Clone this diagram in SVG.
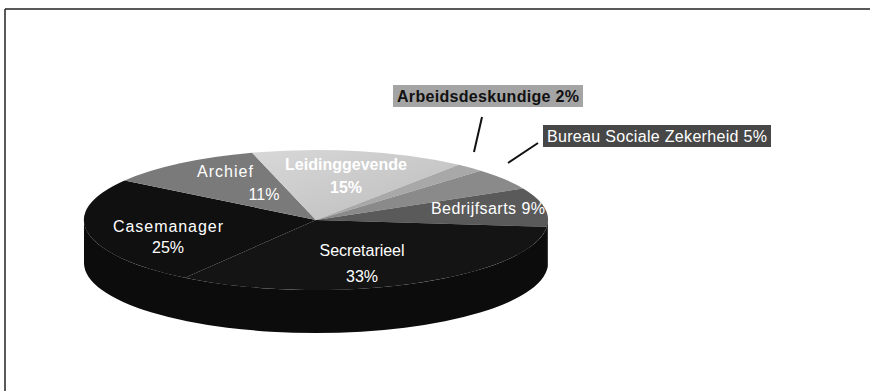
<svg xmlns="http://www.w3.org/2000/svg" width="870" height="391" viewBox="0 0 870 391">
<style>
.lbl{font-family:"Liberation Sans",Arial,sans-serif;font-size:16px;fill:#ffffff;text-anchor:middle}
.bold{font-weight:bold}
.lead{stroke:#111;stroke-width:2;fill:none}
</style>
<defs>
<linearGradient id="gLeid" x1="0" y1="0" x2="1" y2="1">
<stop offset="0" stop-color="#d8d8d8"/><stop offset="1" stop-color="#bcbcbc"/>
</linearGradient>
<linearGradient id="gRight" x1="0" y1="0" x2="1" y2="0">
<stop offset="0" stop-color="#a8a8a8"/><stop offset="1" stop-color="#7a7a7a"/>
</linearGradient>
</defs>
<rect width="870" height="391" fill="#ffffff"/>
<g id="frame" stroke="#222" stroke-width="1.5" fill="none">
<line x1="5" y1="9" x2="870" y2="9"/>
<line x1="5" y1="9" x2="5" y2="391"/>
</g>
<g id="pie-side">
<path d="M84,220 L84,263 A232,70 0 0 0 548,263 L548,220 A232,70 0 0 1 84,220 Z" fill="#0c0c0c"/>
<path d="M546.9,226.8 L546.9,269.8 A232,70 0 0 0 548,263 L548,220 A232,70 0 0 1 546.9,226.8 Z" fill="#3a3a3a"/>
</g>
<g id="slice-casemanager">
<path d="M316,220 L184.9,277.8 A232,70 0 0 1 124.6,180.4 Z" fill="#101010"/>
<text class="lbl" x="168" y="232" textLength="110">Casemanager</text>
<text class="lbl" x="168" y="253">25%</text>
</g>
<g id="slice-archief">
<path d="M316,220 L124.6,180.4 A232,70 0 0 1 252.1,152.7 Z" fill="#7a7a7a"/>
<text class="lbl" x="225" y="177" textLength="56">Archief</text>
<text class="lbl" x="264" y="200">11%</text>
</g>
<g id="slice-leidinggevende">
<path d="M316,220 L252.1,152.7 A232,70 0 0 1 458.8,164.8 Z" fill="url(#gLeid)"/>
<text class="lbl bold" x="346" y="170">Leidinggevende</text>
<text class="lbl bold" x="346" y="193">15%</text>
</g>
<g id="slice-arbeidsdeskundige">
<path d="M316,220 L458.8,164.8 A232,70 0 0 1 480.6,170.7 Z" fill="#a8a8a8"/>
</g>
<g id="slice-bureau">
<path d="M316,220 L480.6,170.7 A232,70 0 0 1 523.1,188.4 Z" fill="#8a8a8a"/>
</g>
<g id="slice-bedrijfsarts">
<path d="M316,220 L523.1,188.4 A232,70 0 0 1 546.9,226.8 Z" fill="#5a5a5a"/>
<text class="lbl" x="488" y="214" textLength="114">Bedrijfsarts 9%</text>
</g>
<g id="slice-secretarieel">
<path d="M316,220 L546.9,226.8 A232,70 0 0 1 184.9,277.8 Z" fill="#141414"/>
<text class="lbl" x="362" y="256" textLength="85">Secretarieel</text>
<text class="lbl" x="362" y="282">33%</text>
</g>
<g id="label-arbeidsdeskundige">
<rect x="393" y="85" width="190" height="22" fill="#a4a4a4"/>
<text x="488" y="102" font-family="'Liberation Sans',Arial,sans-serif" font-size="16" font-weight="bold" fill="#111" text-anchor="middle" textLength="182">Arbeidsdeskundige 2%</text>
</g>
<g id="label-bureau">
<rect x="543" y="125" width="228" height="22" fill="#474747"/>
<text x="657" y="142" font-family="'Liberation Sans',Arial,sans-serif" font-size="16" fill="#fff" text-anchor="middle" textLength="220">Bureau Sociale Zekerheid 5%</text>
</g>
<g id="connectors">
<line class="lead" x1="474" y1="152" x2="482" y2="117"/>
<line class="lead" x1="508" y1="163" x2="538" y2="143"/>
</g>
</svg>
